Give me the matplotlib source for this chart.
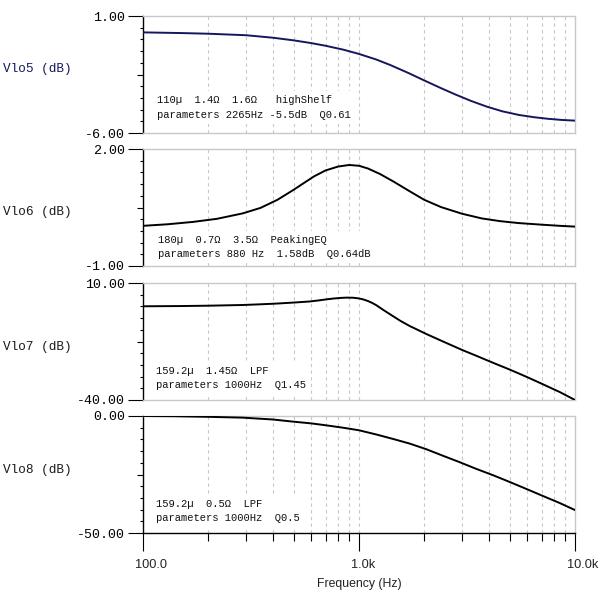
import matplotlib
matplotlib.use("Agg")
import matplotlib.pyplot as plt
from matplotlib.ticker import FixedLocator, FixedFormatter, NullFormatter
from matplotlib.transforms import ScaledTranslation

# ---------------- data ----------------
freq_v5 = [100, 150, 200, 300, 400, 500, 600, 700, 850, 1000, 1200, 1400, 1700,
           2000, 2400, 2800, 3300, 3900, 4600, 5500, 6500, 7500, 8700, 10000]
gain_v5 = [0.02, -0.02, -0.06, -0.15, -0.30, -0.46, -0.62, -0.78, -1.02, -1.27,
           -1.60, -1.94, -2.42, -2.85, -3.32, -3.70, -4.08, -4.42, -4.70, -4.92,
           -5.06, -5.15, -5.22, -5.26]

freq_v6 = [100, 130, 170, 220, 290, 350, 420, 500, 560, 620, 700, 800, 900, 1000,
           1100, 1250, 1450, 1700, 2000, 2400, 3000, 3700, 4500, 5500, 7000, 8500, 10000]
gain_v6 = [0.03, 0.07, 0.13, 0.21, 0.35, 0.49, 0.70, 0.96, 1.14, 1.30, 1.45, 1.55,
           1.59, 1.57, 1.50, 1.36, 1.16, 0.93, 0.70, 0.51, 0.34, 0.22, 0.15, 0.10,
           0.06, 0.03, 0.01]

freq_v7 = [100, 150, 200, 290, 350, 414, 500, 591, 650, 705, 760, 820, 880, 940,
           1000, 1045, 1100, 1150, 1203, 1300, 1433, 1550, 1718, 2050, 2449, 3000,
           3492, 4200, 4988, 6000, 7112, 8500, 10000]
gain_v7 = [0.05, 0.15, 0.30, 0.60, 0.90, 1.20, 1.65, 2.10, 2.55, 3.00, 3.35, 3.62,
           3.75, 3.70, 3.40, 3.00, 2.30, 1.50, 0.50, -1.60, -4.10, -6.10, -8.40,
           -11.80, -15.00, -18.60, -21.10, -24.20, -27.00, -30.20, -33.30, -36.60, -40.00]

freq_v8 = [100, 140, 200, 290, 400, 494, 600, 700, 843, 1000, 1203, 1450, 1718,
           2050, 2449, 2900, 3492, 4200, 4988, 6000, 7112, 8500, 10000]
gain_v8 = [0.00, -0.10, -0.35, -0.71, -1.50, -2.40, -3.15, -3.95, -5.00, -6.10,
           -7.90, -9.90, -11.80, -14.20, -17.00, -19.60, -22.60, -25.40, -28.20,
           -31.30, -34.20, -37.20, -40.20]

signal_names = ["Vlo5 (dB)", "Vlo6 (dB)", "Vlo7 (dB)", "Vlo8 (dB)"]
y_limits = [(-6.0, 1.0), (-1.0, 2.0), (-40.0, 10.0), (-50.0, 0.0)]
notes = [
    "110\u00b5  1.4\u03a9  1.6\u03a9   highShelf\nparameters 2265Hz -5.5dB  Q0.61",
    "180\u00b5  0.7\u03a9  3.5\u03a9  PeakingEQ\nparameters 880 Hz  1.58dB  Q0.64dB",
    "159.2\u00b5  1.45\u03a9  LPF\nparameters 1000Hz  Q1.45",
    "159.2\u00b5  0.5\u03a9  LPF\nparameters 1000Hz  Q0.5",
]
x_major = [100, 1000, 10000]
x_major_labels = ["100.0", "1.0k", "10.0k"]
x_minor = [200, 300, 400, 500, 600, 700, 800, 900,
           2000, 3000, 4000, 5000, 6000, 7000, 8000, 9000]

series = [(freq_v5, gain_v5), (freq_v6, gain_v6), (freq_v7, gain_v7), (freq_v8, gain_v8)]

# ---------------- styling ----------------
line_colors = ["#16165c", "#000000", "#000000", "#000000"]
label_colors = ["#16165c", "#1a1a1a", "#1a1a1a", "#1a1a1a"]
label_ypix = [69, 212, 347, 470]
note_pos = [(0.032, 0.218), (0.035, 0.162), (0.030, 0.190), (0.030, 0.188)]
panel_tops = [16, 149, 283, 416]
PH = 117
GRID = "#c8c8c8"
MONO = "Liberation Mono"
SANS = "Liberation Sans"
PX = 72.0 / 100.0  # points per pixel

fig = plt.figure(figsize=(6, 6), dpi=100)
fig.patch.set_facecolor("white")

for i in range(4):
    top = panel_tops[i]
    ax = fig.add_axes([143 / 600, 1 - (top + PH) / 600, 432 / 600, PH / 600])
    f, g = series[i]
    ax.plot(f, g, color=line_colors[i], lw=1.4, solid_joinstyle="round",
            solid_capstyle="round", zorder=4)
    ax.set_xscale("log")
    ax.set_xlim(100, 10000)
    lo, hi = y_limits[i]
    ax.set_ylim(lo, hi)

    # x ticks / grid
    ax.xaxis.set_major_locator(FixedLocator(x_major))
    ax.xaxis.set_minor_locator(FixedLocator(x_minor))
    ax.xaxis.set_minor_formatter(NullFormatter())
    ax.grid(True, which="both", axis="x", color=GRID, lw=0.8, linestyle=(0, (3, 3)), zorder=1)
    ax.set_axisbelow(True)

    # y ticks
    ax.yaxis.set_major_locator(FixedLocator([lo, hi]))
    ax.yaxis.set_major_formatter(FixedFormatter(["%.2f" % lo, "%.2f" % hi]))
    step = (hi - lo) / 10.0
    ax.yaxis.set_minor_locator(FixedLocator([lo + k * step for k in range(1, 10)]))
    ax.tick_params(axis="y", which="major", direction="out", length=15 * PX, width=0.8,
                   pad=3 * PX, labelsize=9.6, colors="black")
    ax.tick_params(axis="y", which="minor", direction="out", length=3 * PX, width=0.8,
                   colors="black")
    for lab in ax.get_yticklabels():
        lab.set_fontfamily(MONO)
    mticks = ax.yaxis.get_minor_ticks()
    if len(mticks) >= 5:
        mticks[4].tick1line.set_markersize(6 * PX)

    # spines
    for s in ["top", "right", "bottom"]:
        ax.spines[s].set_color(GRID)
        ax.spines[s].set_linewidth(1.0)
    ax.spines["left"].set_color("black")
    ax.spines["left"].set_linewidth(1.0)

    if i < 3:
        ax.tick_params(axis="x", which="both", bottom=False, labelbottom=False)
    else:
        ax.spines["bottom"].set_color("black")
        ax.xaxis.set_major_formatter(FixedFormatter(x_major_labels))
        ax.tick_params(axis="x", which="major", direction="out", length=18 * PX, width=0.8,
                       pad=8 * PX, labelsize=9.2, colors="black")
        ax.tick_params(axis="x", which="minor", direction="out", length=8 * PX, width=0.8,
                       colors="black")
        shift = ScaledTranslation(-8 / 100, 0, fig.dpi_scale_trans)
        for lab in ax.get_xticklabels():
            lab.set_fontfamily(SANS)
            lab.set_color("#222222")
            lab.set_horizontalalignment("left")
            lab.set_transform(lab.get_transform() + shift)
        ax.set_xlabel("Frequency (Hz)", fontfamily=SANS, fontsize=8.8, color="#222222",
                      labelpad=5)

    ax.text(note_pos[i][0], note_pos[i][1], notes[i], transform=ax.transAxes,
            ha="left", va="center", fontfamily=MONO, fontsize=7.6, linespacing=1.55,
            color="#111111", zorder=3,
            bbox=dict(facecolor="white", edgecolor="none", pad=3))

    fig.text(3 / 600, 1 - label_ypix[i] / 600, signal_names[i], ha="left", va="center",
             fontfamily=MONO, fontsize=9.2, color=label_colors[i])

fig.savefig("out.png", dpi=100, facecolor="white")
